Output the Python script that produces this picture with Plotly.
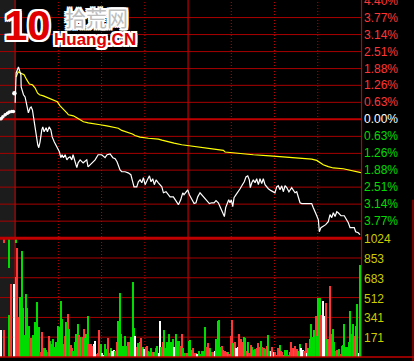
import plotly.graph_objects as go
import numpy as np

# ---------------- data ----------------
# minutes after the open (0..240), percent change vs previous close
price_t = [0, 0.7, 2.3, 4.0, 4.2, 4.9, 5.8, 6.9, 7.6, 8.5,
           9.2, 10.4, 11.1, 12.0, 12.7, 13.4, 14.1, 15.1, 15.7, 16.4,
           17.3, 18.5, 19.2, 20.1, 21.5, 22.4, 23.6, 24.8, 25.7, 27.1,
           28.9, 30.7, 31.7, 32.6, 33.5, 34.7, 35.9, 37.0, 38.1, 39.3,
           40.2, 41.6, 42.8, 43.7, 45.1, 47.2, 49.7, 50.6, 53.2, 55.5,
           57.6, 60.1, 62.4, 63.8, 65.9, 67.8, 69.4, 70.7, 72.8, 74.0,
           76.3, 78.4, 80.3, 81.6, 82.5, 84.4, 85.5, 86.7, 87.9, 89.0,
           90.2, 91.8, 93.2, 94.3, 95.5, 96.6, 97.8, 99.4, 101.8, 102.9,
           104.7, 106.3, 107.5, 109.8, 111.7, 113.3, 114.9, 116.3, 117.2, 118.6,
           119.8, 120.9, 122.6, 124.2, 125.5, 126.7, 128.3, 130.2, 131.8, 133.0,
           134.8, 136.4, 138.0, 139.4, 141.0, 142.2, 143.4, 144.5, 145.2, 146.1,
           147.3, 148.2, 149.1, 150.0, 151.0, 151.9, 153.3, 154.9, 156.1, 157.7,
           159.0, 160.2, 161.4, 162.5, 163.2, 164.2, 165.3, 166.5, 167.6, 168.8,
           169.9, 171.1, 172.2, 173.4, 174.6, 175.7, 177.6, 179.2, 180.3, 181.5,
           182.6, 183.8, 185.0, 186.1, 187.3, 188.5, 190.0, 191.9, 193.0, 194.2,
           195.4, 196.5, 197.7, 198.9, 205.8, 206.9, 208.1, 209.3, 210.4, 211.1,
           212.2, 213.8, 215.5, 217.3, 218.5, 219.7, 220.8, 222.0, 223.2, 224.2,
           226.1, 228.4, 230.1, 231.2, 232.4, 235.3, 236.3, 238.1, 239.3]
price_pct = [0.61, 1.72, 1.94, 1.65, 1.20, 1.02, 0.91, 0.83, 0.65, 0.35,
             0.24, 0.43, 0.46, 0.35, 0.09, -0.13, -0.50, -0.76, -0.94, -1.05,
             -0.83, -0.39, -0.28, -0.46, -0.31, -0.46, -0.28, -0.39, -0.65, -0.83,
             -1.02, -1.20, -1.42, -1.31, -1.42, -1.31, -1.50, -1.42, -1.39, -1.50,
             -1.31, -1.61, -1.79, -1.61, -1.50, -1.61, -1.50, -1.76, -1.61, -1.50,
             -1.31, -1.31, -1.42, -1.31, -1.28, -1.42, -1.46, -1.57, -1.87, -1.94,
             -1.94, -1.98, -2.05, -2.31, -2.50, -2.50, -2.31, -2.24, -2.35, -2.16,
             -2.42, -2.24, -2.09, -2.31, -2.20, -2.42, -2.24, -2.35, -2.50, -2.72,
             -2.68, -2.79, -2.87, -2.87, -3.05, -3.16, -2.98, -2.72, -2.79, -2.68,
             -2.61, -2.79, -2.98, -3.12, -3.09, -2.87, -2.72, -2.83, -2.90, -3.01,
             -3.12, -3.09, -3.09, -3.01, -3.09, -3.23, -3.34, -3.53, -3.60, -3.27,
             -3.05, -2.98, -3.09, -2.98, -3.23, -2.90, -2.79, -2.68, -2.57, -2.42,
             -2.31, -2.13, -2.09, -2.24, -2.53, -2.35, -2.24, -2.35, -2.20, -2.42,
             -2.20, -2.38, -2.20, -2.42, -2.50, -2.57, -2.64, -2.68, -2.72, -2.50,
             -2.46, -2.61, -2.46, -2.68, -2.46, -2.53, -2.68, -2.53, -2.64, -2.72,
             -2.68, -2.87, -3.09, -3.12, -3.12, -3.27, -3.46, -3.57, -3.72, -4.16,
             -4.01, -3.97, -3.90, -3.79, -3.53, -3.64, -3.46, -3.60, -3.42, -3.46,
             -3.57, -3.57, -3.72, -3.83, -4.01, -4.01, -4.16, -4.20, -4.27]

avg_t = [0.7, 2.1, 3.5, 4.6, 6.2, 8.1, 9.9, 12.0, 13.9, 15.5,
         16.9, 19.6, 23.1, 26.6, 29.3, 31.2, 33.5, 35.9, 37.0, 40.4,
         42.8, 45.1, 47.4, 50.8, 54.3, 59.0, 63.6, 67.8, 71.6, 74.0,
         77.5, 81.4, 83.2, 86.7, 92.5, 99.4, 101.8, 105.2, 110.3, 115.6,
         121.9, 129.5, 135.3, 138.7, 144.5, 145.7, 153.8, 158.3, 165.3, 176.9,
         190.7, 200.0, 205.8, 209.3, 211.5, 213.8, 217.3, 220.8, 227.7, 231.2,
         237.0, 240]
avg_pct = [1.57, 1.76, 1.72, 1.68, 1.65, 1.46, 1.31, 1.28, 1.16, 0.98,
           0.91, 0.87, 0.79, 0.72, 0.65, 0.50, 0.39, 0.24, 0.17, 0.13,
           0.06, -0.02, -0.09, -0.13, -0.17, -0.20, -0.24, -0.29, -0.33, -0.41,
           -0.47, -0.54, -0.60, -0.66, -0.70, -0.73, -0.77, -0.82, -0.88, -0.94,
           -0.99, -1.03, -1.08, -1.12, -1.15, -1.21, -1.25, -1.29, -1.31, -1.35,
           -1.40, -1.43, -1.47, -1.52, -1.60, -1.68, -1.75, -1.80, -1.83, -1.87,
           -1.92, -1.97]

# call-auction (9:15-9:25) indicative prices
pre_t = [-9.7, -8.5, -6.9, -5.3, -4.0, -2.3, -1.2]
pre_pct = [0.02, 0.10, 0.17, 0.23, 0.27, 0.29, 0.29]
open_t = [-0.5]
open_pct = [0.97]

# per-minute volume (240 minutes) and bar direction R/G/W
vol = [690, 938, 347, 518, 913, 424, 184, 544, 424, 270,
       159, 159, 184, 304, 227, 476, 261, 39, 210, 73,
       73, 56, 39, 176, 133, 107, 150, 81, 124, 270,
       261, 484, 330, 107, 176, 296, 373, 236, 99, 73,
       47, 124, 193, 287, 184, 167, 167, 236, 159, 193,
       356, 107, 107, 90, 107, 133, 21, 30, 227, 107,
       30, 13, 107, 64, 159, 30, 73, 47, 56, 47,
       124, 313, 553, 193, 90, 90, 176, 90, 124, 124,
       170, 641, 247, 176, 84, 116, 124, 159, 81, 64,
       84, 93, 47, 39, 73, 39, 39, 73, 90, 30,
       313, 81, 124, 227, 73, 124, 201, 124, 124, 150,
       81, 193, 133, 133, 93, 193, 73, 30, 30, 30,
       133, 141, 56, 73, 30, 30, 21, 47, 21, 50,
       47, 261, 81, 116, 50, 73, 39, 39, 47, 150,
       313, 321, 81, 90, 56, 47, 39, 39, 21, 176,
       321, 116, 124, 75, 81, 201, 150, 124, 170, 159,
       47, 124, 30, 99, 81, 58, 64, 73, 116, 81,
       133, 81, 73, 64, 90, 184, 47, 47, 81, 39,
       39, 10, 73, 99, 47, 39, 10, 56, 56, 10,
       39, 124, 73, 64, 90, 64, 47, 107, 73, 56,
       47, 116, 30, 73, 150, 287, 167, 227, 356, 176,
       510, 510, 364, 484, 356, 467, 150, 150, 613, 193,
       244, 124, 47, 56, 64, 21, 90, 99, 287, 81,
       81, 124, 398, 193, 287, 176, 270, 459, 30, 793]
vol_dir = ("GRRGGGGGGG" "RRGGGGGRRR" "GGRRGGGGGG" "GGGGRGRGRR"
           "GGGGRGRRGG" "GRRRWWRRRG" "WWGGRRGWWG" "RGGGGGGGRR"
           "GGGWRGGRGW" "RRGGGRGRGW" "WGRGGGGGGG" "WGGGRRGGRR"
           "GGGRRRWGGR" "GGRRRGRRWG" "GGGRRRRGRR" "RGRWWRRRGG"
           "RGRRGGGRRR" "GRRGRGGWRW" "RRRGRRGGGG" "GRRGRRGGWW"
           "RRWGGGGGRG" "GGRWWRGRRR" "GGRRGRRGGG" "GGGRGRGGWG")

# call-auction volume bars
pre_vol_t = [-9.7, -7.6, -4.4, -3.1, -0.5]
pre_vol = [230, 230, 364, 630, 630]
pre_vol_dir = "WRGRW"
# portions of bars running past the 1024 scale (drawn hanging from the top)
over_t = [-7.6, -4.4, 0.5]
over_vol = [45, 260, 45]
over_dir = "RGG"

price_levels = [4.40, 3.77, 3.14, 2.51, 1.88, 1.26, 0.63, 0.00,
                -0.63, -1.26, -1.88, -2.51, -3.14, -3.77]
price_labels = ["4.40%", "3.77%", "3.14%", "2.51%", "1.88%", "1.26%", "0.63%", "0.00%",
                "0.63%", "1.26%", "1.88%", "2.51%", "3.14%", "3.77%"]
vol_levels = [1024, 853, 683, 512, 341, 171]
vol_labels = ["1024", "853", "683", "512", "341", "171"]

# ---------------- styling ----------------
RED = "#ff3636"
GREEN = "#00dc00"
WHITE = "#ffffff"
GRID = "#a80000"
GRID_B = "#c00000"
cmap = {"R": RED, "G": GREEN, "W": WHITE}
FONT = "Liberation Sans, Arial, sans-serif"

W, H = 414, 361
M_L, M_R, M_T, M_B = 0, 53, 0, 3.5
PH = H - M_T - M_B
PW = W - M_L - M_R
split = (PH - 238.5) / PH   # boundary between price and volume panes


def px_x(p):
    return (p - M_L) / PW


def px_y(p):
    return (H - M_B - p) / PH


fig = go.Figure()

# volume bars
fig.add_trace(go.Bar(x=np.arange(len(vol)) + 0.5, y=vol,
                     marker=dict(color=[cmap[c] for c in vol_dir], line=dict(width=0)),
                     width=0.7, xaxis="x2", yaxis="y2", hoverinfo="skip"))
fig.add_trace(go.Bar(x=pre_vol_t, y=pre_vol,
                     marker=dict(color=[cmap[c] for c in pre_vol_dir], line=dict(width=0)),
                     width=0.7, xaxis="x2", yaxis="y2", hoverinfo="skip"))
fig.add_trace(go.Bar(x=over_t, y=[-v for v in over_vol], base=[1024] * len(over_vol),
                     marker=dict(color=[cmap[c] for c in over_dir], line=dict(width=0)),
                     width=0.7, xaxis="x2", yaxis="y2", hoverinfo="skip"))

# average (yellow) and price (white) lines
fig.add_trace(go.Scatter(x=avg_t, y=avg_pct, mode="lines",
                         line=dict(color="#ffff00", width=1.2), hoverinfo="skip"))
fig.add_trace(go.Scatter(x=price_t, y=price_pct, mode="lines",
                         line=dict(color=WHITE, width=1.2), hoverinfo="skip"))
fig.add_trace(go.Scatter(x=pre_t, y=pre_pct, mode="lines+markers",
                         line=dict(color=WHITE, width=2, dash="3px,1px"),
                         marker=dict(color=WHITE, size=3.5), hoverinfo="skip"))
fig.add_trace(go.Scatter(x=open_t, y=open_pct, mode="markers",
                         marker=dict(color=WHITE, size=4.5), hoverinfo="skip"))

shapes = []
# call-auction grey zone
shapes.append(dict(type="rect", xref="x", yref="paper", x0=-10.5, x1=0, y0=0, y1=1,
                   fillcolor="#1c1c1c", line=dict(width=0), layer="below"))
# price grid
for lv in price_levels[1:]:
    shapes.append(dict(type="line", xref="paper", yref="y", x0=0, x1=1, y0=lv, y1=lv,
                       line=dict(color=GRID_B if lv == 0 else GRID, width=2 if lv == 0 else 1),
                       layer="below"))
# volume grid
for lv in vol_levels[1:]:
    shapes.append(dict(type="line", xref="paper", yref="y2", x0=0, x1=1, y0=lv, y1=lv,
                       line=dict(color=GRID, width=1), layer="below"))
# pane separator & bottom
shapes.append(dict(type="line", xref="paper", yref="paper", x0=0, x1=1, y0=split, y1=split,
                   line=dict(color=GRID_B, width=3)))
shapes.append(dict(type="line", xref="paper", yref="paper", x0=0, x1=px_x(414), y0=0, y1=0,
                   line=dict(color=GRID_B, width=1.5)))
# vertical time grid
for tv in [30, 60, 90, 150, 180, 210]:
    shapes.append(dict(type="line", xref="x", yref="paper", x0=tv, x1=tv, y0=0, y1=1,
                       line=dict(color=GRID_B, width=1, dash="1px,2px"), layer="below"))
for tv in [0, 120]:
    shapes.append(dict(type="line", xref="x", yref="paper", x0=tv, x1=tv, y0=0, y1=1,
                       line=dict(color=GRID_B, width=1.2), layer="below"))
shapes.append(dict(type="line", xref="paper", yref="paper", x0=1.0015, x1=1.0015, y0=0, y1=1.01,
                   line=dict(color=GRID_B, width=1.2)))
shapes.append(dict(type="line", xref="paper", yref="paper", x0=px_x(413), x1=px_x(413),
                   y0=px_y(362), y1=px_y(200), line=dict(color=GRID_B, width=1.2)))

annotations = []
for lv, lb in zip(price_levels, price_labels):
    col = RED if lv > 0 else (WHITE if lv == 0 else GREEN)
    annotations.append(dict(x=1, xref="paper", y=lv, yref="y", text=lb, showarrow=False,
                            xanchor="left", yanchor="middle", xshift=1,
                            font=dict(family=FONT, size=12, color=col)))
for lv, lb in zip(vol_levels, vol_labels):
    annotations.append(dict(x=1, xref="paper", y=lv, yref="y2", text=lb, showarrow=False,
                            xanchor="left", yanchor="middle", xshift=1, yshift=-1,
                            font=dict(family=FONT, size=12, color="#cccc00")))

halo = ("-2px 0 0 #fff, 2px 0 0 #fff, 0 -2px 0 #fff, 0 2px 0 #fff, "
        "-1px -1px 0 #fff, 1px -1px 0 #fff, -1px 1px 0 #fff, 1px 1px 0 #fff, "
        "-2px -2px 0 #fff, 2px 2px 0 #fff, -2px 2px 0 #fff, 2px -2px 0 #fff")
annotations.append(dict(x=px_x(28), y=px_y(26), xref="paper", yref="paper", text="<b>10</b>",
                        showarrow=False, xanchor="center", yanchor="middle", borderpad=0,
                        font=dict(family="Liberation Sans", size=42,
                                  color="#e00000", shadow=halo)))
annotations.append(dict(x=px_x(96), y=px_y(17), xref="paper", yref="paper", text="拾荒网",
                        showarrow=False, xanchor="center", yanchor="middle", borderpad=0,
                        font=dict(family="Noto Sans CJK SC", size=21,
                                  color="#bdbdbd", shadow=halo)))
annotations.append(dict(x=px_x(95), y=px_y(40), xref="paper", yref="paper", text="<b>Huang.CN</b>",
                        showarrow=False, xanchor="center", yanchor="middle", borderpad=0,
                        font=dict(family="Liberation Sans", size=17,
                                  color="#e00000", shadow=halo)))

fig.update_layout(
    width=W, height=H,
    margin=dict(l=M_L, r=M_R, t=M_T, b=M_B, pad=0),
    paper_bgcolor="#000000", plot_bgcolor="#000000",
    showlegend=False, hovermode=False, bargap=0, barmode="overlay",
    xaxis=dict(domain=[0, 1], range=[-10.5, 240], visible=False, anchor="y", fixedrange=True),
    xaxis2=dict(domain=[0, 1], range=[-10.5, 240], visible=False, anchor="y2",
                matches="x", fixedrange=True),
    yaxis=dict(domain=[split, 1], range=[-4.40, 4.42], visible=False, anchor="x"),
    yaxis2=dict(domain=[0, split], range=[0, 1024], visible=False, anchor="x2"),
    shapes=shapes, annotations=annotations,
)

fig.write_html("out.html", config={"displayModeBar": False})
